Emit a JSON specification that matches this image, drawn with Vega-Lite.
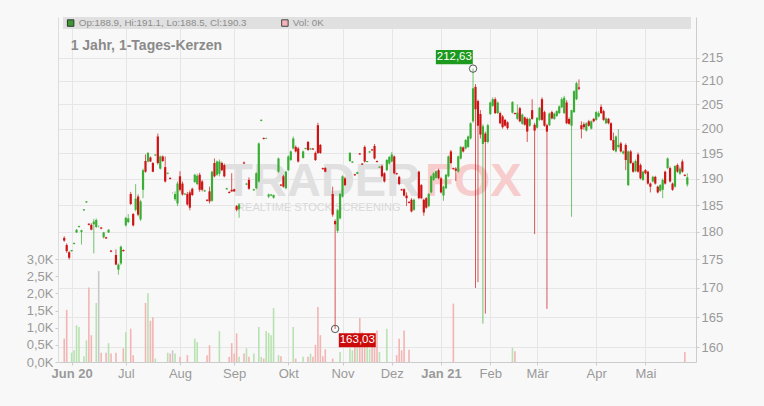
{
  "$schema": "https://vega.github.io/schema/vega-lite/v6.json",
  "width": 638,
  "height": 345,
  "autosize": {"type": "none"},
  "padding": {"left": 58, "top": 17, "right": 68, "bottom": 44},
  "background": "#f8f8f8",
  "config": {
    "view": {"stroke": null},
    "font": "Liberation Sans",
    "axis": {"labelFont": "Liberation Sans", "labelColor": "#9a9a9a", "labelFontSize": 13, "titleFont": "Liberation Sans"}
  },
  "data": {"values": [
    {"i":0,"o":178.9,"h":179.2,"l":178.2,"c":178.4,"v":0.68},
    {"i":1,"o":177.6,"h":177.9,"l":176.2,"c":176.5,"v":1.52},
    {"i":2,"o":176.3,"h":176.5,"l":175.0,"c":175.3,"v":0},
    {"i":3,"o":176.5,"h":176.7,"l":176.4,"c":176.7,"v":0.27},
    {"i":4,"o":177.8,"h":178.0,"l":177.7,"c":178.0,"v":0.34},
    {"i":5,"o":179.9,"h":180.5,"l":179.8,"c":180.4,"v":1.07},
    {"i":6,"o":180.9,"h":181.1,"l":180.8,"c":181.1,"v":1.02},
    {"i":7,"o":180.0,"h":180.4,"l":177.7,"c":180.3,"v":0},
    {"i":8,"o":184.0,"h":184.2,"l":183.9,"c":184.2,"v":0.17},
    {"i":9,"o":185.5,"h":185.7,"l":185.4,"c":185.7,"v":0.63},
    {"i":10,"o":181.5,"h":181.6,"l":181.2,"c":181.3,"v":2.17},
    {"i":11,"o":181.3,"h":181.6,"l":180.3,"c":180.4,"v":0.78},
    {"i":12,"o":181.4,"h":182.4,"l":176.1,"c":181.9,"v":0},
    {"i":13,"o":180.9,"h":182.5,"l":180.7,"c":182.2,"v":1.72},
    {"i":14,"o":181.0,"h":181.2,"l":180.8,"c":181.0,"v":2.65},
    {"i":15,"o":180.8,"h":180.9,"l":180.5,"c":180.6,"v":0.27},
    {"i":16,"o":179.0,"h":180.0,"l":178.8,"c":179.9,"v":0},
    {"i":17,"o":179.0,"h":179.1,"l":178.7,"c":178.8,"v":0.27},
    {"i":18,"o":179.9,"h":180.5,"l":179.8,"c":180.4,"v":0.55},
    {"i":19,"o":176.6,"h":176.7,"l":176.3,"c":176.4,"v":0.25},
    {"i":21,"o":175.8,"h":176.8,"l":174.0,"c":174.1,"v":0.27},
    {"i":22,"o":173.2,"h":174.3,"l":172.3,"c":174.1,"v":0},
    {"i":23,"o":174.3,"h":177.5,"l":174.0,"c":177.3,"v":0},
    {"i":24,"o":176.7,"h":176.8,"l":176.4,"c":176.5,"v":0.4},
    {"i":25,"o":181.2,"h":182.8,"l":181.0,"c":182.6,"v":0.87},
    {"i":26,"o":181.8,"h":183.3,"l":181.6,"c":182.5,"v":0},
    {"i":27,"o":187.1,"h":187.5,"l":185.0,"c":185.2,"v":0.97},
    {"i":28,"o":183.3,"h":183.5,"l":181.0,"c":181.2,"v":0.2},
    {"i":29,"o":184.1,"h":189.0,"l":183.8,"c":186.2,"v":0},
    {"i":30,"o":186.6,"h":187.0,"l":182.9,"c":183.2,"v":0},
    {"i":31,"o":182.3,"h":186.0,"l":182.0,"c":185.7,"v":0},
    {"i":32,"o":187.9,"h":192.0,"l":186.3,"c":191.7,"v":0},
    {"i":33,"o":193.5,"h":194.8,"l":191.2,"c":191.4,"v":1.72},
    {"i":34,"o":193.4,"h":195.3,"l":193.2,"c":195.1,"v":2.0},
    {"i":35,"o":194.2,"h":194.4,"l":193.3,"c":193.4,"v":1.2},
    {"i":36,"o":193.1,"h":193.3,"l":191.3,"c":191.4,"v":1.3},
    {"i":37,"o":194.6,"h":194.8,"l":194.5,"c":194.8,"v":0.1},
    {"i":38,"o":198.4,"h":199.0,"l":192.8,"c":193.1,"v":0},
    {"i":39,"o":192.0,"h":194.6,"l":191.8,"c":194.4,"v":0},
    {"i":40,"o":194.4,"h":194.6,"l":193.3,"c":193.5,"v":0},
    {"i":41,"o":192.3,"h":194.4,"l":189.3,"c":189.5,"v":0},
    {"i":42,"o":191.0,"h":191.2,"l":190.9,"c":191.2,"v":0.27},
    {"i":43,"o":190.2,"h":190.3,"l":189.9,"c":190.0,"v":0.25},
    {"i":44,"o":187.3,"h":187.4,"l":187.2,"c":187.3,"v":0.34},
    {"i":45,"o":186.1,"h":187.6,"l":185.8,"c":187.1,"v":0.25},
    {"i":46,"o":185.3,"h":189.5,"l":184.8,"c":189.1,"v":0},
    {"i":47,"o":190.5,"h":191.5,"l":187.6,"c":187.9,"v":0.15},
    {"i":48,"o":189.1,"h":189.5,"l":186.8,"c":187.0,"v":0},
    {"i":49,"o":187.0,"h":187.2,"l":186.9,"c":187.2,"v":0},
    {"i":50,"o":187.1,"h":187.5,"l":184.9,"c":185.1,"v":0.2},
    {"i":51,"o":187.4,"h":187.8,"l":184.0,"c":184.5,"v":0},
    {"i":52,"o":188.1,"h":188.3,"l":186.7,"c":186.9,"v":0},
    {"i":53,"o":189.4,"h":191.0,"l":189.2,"c":190.8,"v":0.68},
    {"i":54,"o":189.0,"h":191.0,"l":188.8,"c":190.6,"v":0.58},
    {"i":55,"o":190.8,"h":191.2,"l":187.5,"c":187.9,"v":0},
    {"i":56,"o":189.5,"h":189.8,"l":187.6,"c":187.9,"v":0},
    {"i":57,"o":187.6,"h":187.9,"l":187.5,"c":187.8,"v":0},
    {"i":58,"o":186.0,"h":186.1,"l":185.7,"c":185.8,"v":0.2},
    {"i":59,"o":187.6,"h":188.5,"l":185.3,"c":185.7,"v":0.49},
    {"i":60,"o":185.8,"h":191.6,"l":185.6,"c":191.4,"v":0},
    {"i":61,"o":193.1,"h":194.0,"l":190.3,"c":190.5,"v":0},
    {"i":62,"o":190.8,"h":193.6,"l":190.6,"c":193.4,"v":0},
    {"i":63,"o":191.0,"h":193.8,"l":190.5,"c":193.4,"v":0.9},
    {"i":64,"o":193.1,"h":193.4,"l":191.5,"c":191.7,"v":0},
    {"i":65,"o":192.7,"h":193.0,"l":190.3,"c":190.5,"v":0},
    {"i":66,"o":188.0,"h":188.3,"l":187.9,"c":188.2,"v":0},
    {"i":67,"o":187.5,"h":187.6,"l":187.2,"c":187.3,"v":0.15},
    {"i":68,"o":187.9,"h":191.1,"l":187.5,"c":187.6,"v":0.55},
    {"i":69,"o":188.0,"h":188.1,"l":187.5,"c":187.6,"v":0.25},
    {"i":70,"o":184.8,"h":185.0,"l":183.8,"c":184.1,"v":0.83},
    {"i":71,"o":184.2,"h":185.3,"l":182.6,"c":185.1,"v":0.15},
    {"i":73,"o":193.2,"h":193.4,"l":192.9,"c":193.0,"v":0.25},
    {"i":74,"o":188.9,"h":189.2,"l":188.8,"c":189.1,"v":0.4},
    {"i":75,"o":189.8,"h":190.3,"l":187.9,"c":188.1,"v":0.15},
    {"i":77,"o":187.8,"h":188.1,"l":187.7,"c":188.0,"v":0.25},
    {"i":78,"o":188.2,"h":191.3,"l":188.0,"c":191.1,"v":0},
    {"i":79,"o":189.5,"h":197.2,"l":189.3,"c":197.0,"v":1.02},
    {"i":80,"o":201.6,"h":201.9,"l":201.5,"c":201.8,"v":0.15},
    {"i":81,"o":198.1,"h":198.2,"l":197.8,"c":197.9,"v":0.1},
    {"i":82,"o":198.0,"h":198.2,"l":197.9,"c":198.1,"v":0.9},
    {"i":83,"o":186.6,"h":187.2,"l":186.3,"c":187.0,"v":0.85},
    {"i":84,"o":186.8,"h":187.1,"l":186.7,"c":187.0,"v":0.78},
    {"i":85,"o":186.4,"h":187.0,"l":186.2,"c":186.9,"v":1.57},
    {"i":87,"o":191.4,"h":194.2,"l":191.2,"c":194.0,"v":0.2},
    {"i":88,"o":188.9,"h":189.0,"l":188.6,"c":188.7,"v":0.17},
    {"i":89,"o":190.5,"h":190.8,"l":188.3,"c":188.5,"v":0},
    {"i":90,"o":188.2,"h":191.6,"l":188.0,"c":191.4,"v":0},
    {"i":91,"o":191.7,"h":194.6,"l":191.5,"c":194.4,"v":0},
    {"i":92,"o":193.7,"h":195.6,"l":193.5,"c":195.4,"v":0},
    {"i":93,"o":196.0,"h":198.4,"l":195.8,"c":198.0,"v":1.02},
    {"i":94,"o":196.3,"h":196.6,"l":195.2,"c":195.4,"v":0.1},
    {"i":95,"o":196.0,"h":196.3,"l":193.2,"c":193.4,"v":0},
    {"i":97,"o":194.1,"h":195.6,"l":194.0,"c":195.4,"v":0.15},
    {"i":98,"o":195.9,"h":196.1,"l":195.8,"c":196.1,"v":0},
    {"i":99,"o":197.3,"h":197.5,"l":195.5,"c":195.7,"v":0.15},
    {"i":100,"o":195.8,"h":196.0,"l":195.7,"c":196.0,"v":0.24},
    {"i":101,"o":196.0,"h":196.1,"l":195.7,"c":195.8,"v":0.15},
    {"i":102,"o":195.1,"h":195.4,"l":193.5,"c":193.7,"v":0.5},
    {"i":103,"o":200.7,"h":201.2,"l":194.9,"c":195.1,"v":1.6},
    {"i":104,"o":196.7,"h":196.9,"l":194.9,"c":195.1,"v":0.78},
    {"i":105,"o":192.1,"h":192.2,"l":191.8,"c":191.9,"v":0.17},
    {"i":106,"o":192.1,"h":192.3,"l":191.3,"c":191.4,"v":0.37},
    {"i":109,"o":187.1,"h":188.5,"l":182.8,"c":183.2,"v":0.1},
    {"i":110,"o":182.0,"h":182.3,"l":163.03,"c":181.4,"v":0},
    {"i":111,"o":180.2,"h":184.3,"l":179.8,"c":184.0,"v":0},
    {"i":112,"o":182.5,"h":187.3,"l":182.3,"c":187.1,"v":0.29},
    {"i":113,"o":186.6,"h":190.7,"l":186.4,"c":190.5,"v":0},
    {"i":114,"o":190.1,"h":190.4,"l":188.6,"c":188.8,"v":0},
    {"i":116,"o":193.5,"h":195.3,"l":193.3,"c":195.1,"v":0.39},
    {"i":117,"o":193.2,"h":193.5,"l":193.1,"c":193.4,"v":0.34},
    {"i":118,"o":190.9,"h":191.0,"l":190.6,"c":190.7,"v":0.87},
    {"i":119,"o":191.0,"h":191.4,"l":190.9,"c":191.3,"v":0.56},
    {"i":120,"o":195.0,"h":195.1,"l":194.7,"c":194.8,"v":1.28},
    {"i":121,"o":193.0,"h":193.1,"l":192.7,"c":192.8,"v":0.87},
    {"i":122,"o":196.3,"h":196.6,"l":193.2,"c":193.4,"v":0.66},
    {"i":123,"o":193.3,"h":193.5,"l":193.2,"c":193.5,"v":0.78},
    {"i":124,"o":195.2,"h":195.5,"l":195.1,"c":195.4,"v":0.39},
    {"i":125,"o":195.8,"h":195.9,"l":195.5,"c":195.6,"v":0.83},
    {"i":126,"o":196.5,"h":196.9,"l":193.8,"c":194.0,"v":0.59},
    {"i":127,"o":193.5,"h":193.6,"l":193.2,"c":193.3,"v":0.92},
    {"i":128,"o":192.2,"h":192.4,"l":192.1,"c":192.4,"v":0.29},
    {"i":129,"o":192.5,"h":192.8,"l":190.3,"c":190.5,"v":0},
    {"i":130,"o":191.1,"h":191.3,"l":189.3,"c":189.5,"v":0},
    {"i":131,"o":191.7,"h":193.9,"l":191.5,"c":193.7,"v":0.97},
    {"i":132,"o":193.0,"h":194.5,"l":192.8,"c":194.3,"v":0},
    {"i":133,"o":193.4,"h":195.3,"l":193.2,"c":194.8,"v":0},
    {"i":134,"o":194.4,"h":194.6,"l":190.9,"c":191.1,"v":0},
    {"i":135,"o":191.1,"h":191.2,"l":190.8,"c":190.9,"v":0.2},
    {"i":136,"o":190.4,"h":190.6,"l":188.8,"c":189.0,"v":0.68},
    {"i":137,"o":188.0,"h":188.1,"l":187.7,"c":187.8,"v":0.34},
    {"i":138,"o":188.0,"h":188.2,"l":186.6,"c":186.8,"v":0.92},
    {"i":139,"o":186.8,"h":187.4,"l":184.8,"c":186.3,"v":0},
    {"i":140,"o":185.6,"h":185.7,"l":185.3,"c":185.4,"v":0.36},
    {"i":141,"o":186.0,"h":186.3,"l":183.6,"c":183.8,"v":0},
    {"i":142,"o":184.1,"h":186.2,"l":183.9,"c":186.0,"v":0},
    {"i":144,"o":191.4,"h":191.6,"l":186.1,"c":186.3,"v":0},
    {"i":145,"o":188.8,"h":189.0,"l":186.1,"c":186.3,"v":0},
    {"i":146,"o":186.0,"h":186.2,"l":183.0,"c":183.6,"v":0},
    {"i":147,"o":186.3,"h":186.5,"l":184.3,"c":184.5,"v":0},
    {"i":148,"o":184.8,"h":187.3,"l":184.6,"c":187.1,"v":0},
    {"i":149,"o":187.4,"h":190.7,"l":187.2,"c":190.5,"v":0},
    {"i":150,"o":189.8,"h":191.3,"l":189.6,"c":191.1,"v":0},
    {"i":151,"o":190.2,"h":191.7,"l":190.0,"c":191.5,"v":0},
    {"i":152,"o":191.7,"h":192.0,"l":189.9,"c":190.1,"v":0},
    {"i":153,"o":190.1,"h":190.4,"l":187.2,"c":187.4,"v":0},
    {"i":154,"o":186.8,"h":188.7,"l":185.8,"c":188.5,"v":0},
    {"i":155,"o":188.2,"h":191.0,"l":188.0,"c":190.8,"v":0},
    {"i":156,"o":190.5,"h":194.6,"l":190.3,"c":194.4,"v":0},
    {"i":157,"o":195.4,"h":195.7,"l":192.9,"c":193.1,"v":0},
    {"i":158,"o":192.1,"h":192.2,"l":191.8,"c":191.9,"v":1.7},
    {"i":159,"o":192.0,"h":192.3,"l":189.6,"c":191.6,"v":0},
    {"i":160,"o":191.4,"h":194.6,"l":191.2,"c":194.4,"v":0},
    {"i":161,"o":194.0,"h":196.5,"l":193.8,"c":196.3,"v":0},
    {"i":162,"o":196.2,"h":196.4,"l":195.2,"c":195.4,"v":0},
    {"i":163,"o":196.0,"h":197.9,"l":195.8,"c":197.7,"v":0},
    {"i":164,"o":196.3,"h":198.6,"l":196.1,"c":198.4,"v":0},
    {"i":165,"o":198.0,"h":201.3,"l":197.8,"c":201.1,"v":0},
    {"i":166,"o":201.5,"h":212.63,"l":201.2,"c":208.4,"v":0},
    {"i":167,"o":208.7,"h":209.3,"l":170.0,"c":204.0,"v":0},
    {"i":168,"o":205.7,"h":206.0,"l":171.0,"c":200.6,"v":0},
    {"i":169,"o":203.0,"h":203.8,"l":198.0,"c":198.8,"v":0},
    {"i":170,"o":196.9,"h":200.9,"l":163.9,"c":200.5,"v":0},
    {"i":171,"o":199.0,"h":199.4,"l":165.6,"c":197.3,"v":0},
    {"i":172,"o":197.3,"h":201.0,"l":197.0,"c":200.7,"v":0},
    {"i":173,"o":203.0,"h":205.6,"l":202.8,"c":205.4,"v":0},
    {"i":174,"o":204.7,"h":206.5,"l":204.5,"c":206.1,"v":0},
    {"i":175,"o":206.1,"h":206.5,"l":203.0,"c":203.2,"v":0},
    {"i":176,"o":203.2,"h":205.6,"l":203.0,"c":205.4,"v":0},
    {"i":177,"o":203.2,"h":203.5,"l":200.9,"c":201.1,"v":0},
    {"i":178,"o":202.5,"h":202.8,"l":200.0,"c":200.3,"v":0},
    {"i":179,"o":201.8,"h":202.0,"l":200.4,"c":200.6,"v":0},
    {"i":180,"o":201.3,"h":201.5,"l":199.8,"c":200.1,"v":0},
    {"i":182,"o":203.3,"h":205.7,"l":203.1,"c":205.5,"v":0.41},
    {"i":183,"o":203.2,"h":203.3,"l":202.9,"c":203.0,"v":0.31},
    {"i":184,"o":202.0,"h":205.0,"l":201.8,"c":203.3,"v":0},
    {"i":185,"o":204.2,"h":204.5,"l":201.3,"c":201.5,"v":0},
    {"i":186,"o":201.0,"h":203.1,"l":200.8,"c":202.9,"v":0},
    {"i":187,"o":202.3,"h":202.5,"l":200.6,"c":200.8,"v":0},
    {"i":188,"o":202.0,"h":202.3,"l":197.3,"c":199.4,"v":0},
    {"i":189,"o":200.6,"h":202.2,"l":200.4,"c":202.0,"v":0},
    {"i":190,"o":203.8,"h":206.1,"l":201.8,"c":202.0,"v":0},
    {"i":191,"o":200.8,"h":201.2,"l":179.6,"c":199.6,"v":0},
    {"i":192,"o":200.2,"h":202.4,"l":200.0,"c":202.2,"v":0},
    {"i":193,"o":201.8,"h":204.5,"l":201.6,"c":204.3,"v":0},
    {"i":194,"o":206.1,"h":206.5,"l":201.6,"c":201.8,"v":0},
    {"i":195,"o":203.4,"h":203.7,"l":200.4,"c":200.6,"v":0},
    {"i":196,"o":200.7,"h":201.0,"l":166.4,"c":199.4,"v":0},
    {"i":197,"o":200.7,"h":203.3,"l":200.5,"c":203.1,"v":0},
    {"i":198,"o":203.4,"h":203.7,"l":201.9,"c":202.1,"v":0},
    {"i":199,"o":202.0,"h":203.3,"l":201.8,"c":203.1,"v":0},
    {"i":200,"o":202.6,"h":203.8,"l":202.4,"c":203.6,"v":0},
    {"i":201,"o":203.2,"h":204.8,"l":203.0,"c":204.6,"v":0},
    {"i":202,"o":204.4,"h":206.5,"l":204.2,"c":206.1,"v":0},
    {"i":203,"o":203.2,"h":206.8,"l":203.0,"c":206.4,"v":0},
    {"i":204,"o":205.4,"h":205.9,"l":200.9,"c":201.1,"v":0},
    {"i":205,"o":202.0,"h":202.3,"l":200.8,"c":201.0,"v":0},
    {"i":206,"o":200.6,"h":203.9,"l":182.8,"c":203.8,"v":0},
    {"i":207,"o":203.4,"h":208.0,"l":203.2,"c":207.8,"v":0},
    {"i":208,"o":206.1,"h":209.8,"l":205.9,"c":209.5,"v":0},
    {"i":209,"o":208.6,"h":210.3,"l":208.0,"c":208.3,"v":0},
    {"i":210,"o":200.7,"h":201.5,"l":198.0,"c":199.9,"v":0},
    {"i":211,"o":200.9,"h":201.3,"l":199.8,"c":200.3,"v":0},
    {"i":212,"o":199.6,"h":201.3,"l":199.4,"c":201.1,"v":0},
    {"i":213,"o":201.5,"h":201.8,"l":200.4,"c":200.6,"v":0},
    {"i":214,"o":200.0,"h":201.7,"l":199.8,"c":201.5,"v":0},
    {"i":215,"o":202.0,"h":202.2,"l":201.3,"c":201.5,"v":0},
    {"i":216,"o":201.8,"h":203.6,"l":201.6,"c":203.4,"v":0},
    {"i":217,"o":202.5,"h":203.6,"l":202.3,"c":203.2,"v":0},
    {"i":218,"o":204.5,"h":205.0,"l":203.0,"c":203.2,"v":0},
    {"i":219,"o":203.6,"h":203.9,"l":201.6,"c":201.8,"v":0},
    {"i":220,"o":201.1,"h":202.3,"l":200.9,"c":202.1,"v":0},
    {"i":221,"o":202.0,"h":202.2,"l":200.9,"c":201.1,"v":0},
    {"i":222,"o":201.1,"h":201.3,"l":197.5,"c":197.7,"v":0},
    {"i":223,"o":197.7,"h":199.2,"l":195.5,"c":195.7,"v":0},
    {"i":224,"o":195.4,"h":198.6,"l":195.2,"c":198.4,"v":0},
    {"i":225,"o":196.3,"h":199.9,"l":196.0,"c":196.7,"v":0},
    {"i":226,"o":197.0,"h":197.3,"l":195.2,"c":195.4,"v":0},
    {"i":227,"o":195.0,"h":195.6,"l":194.8,"c":195.4,"v":0},
    {"i":228,"o":196.7,"h":197.0,"l":191.7,"c":193.7,"v":0},
    {"i":229,"o":188.8,"h":195.6,"l":188.6,"c":195.4,"v":0},
    {"i":230,"o":195.4,"h":195.7,"l":192.9,"c":193.1,"v":0},
    {"i":231,"o":193.1,"h":193.4,"l":191.2,"c":191.4,"v":0},
    {"i":232,"o":191.5,"h":193.8,"l":191.3,"c":193.5,"v":0},
    {"i":233,"o":194.8,"h":195.2,"l":191.2,"c":191.4,"v":0},
    {"i":234,"o":192.7,"h":193.0,"l":189.9,"c":190.1,"v":0},
    {"i":235,"o":189.8,"h":191.6,"l":189.6,"c":191.4,"v":0},
    {"i":236,"o":191.7,"h":191.9,"l":190.9,"c":191.1,"v":0},
    {"i":237,"o":191.4,"h":191.6,"l":188.9,"c":189.1,"v":0},
    {"i":238,"o":189.1,"h":189.3,"l":187.4,"c":188.5,"v":0},
    {"i":239,"o":189.5,"h":190.6,"l":189.3,"c":190.4,"v":0},
    {"i":240,"o":190.4,"h":190.6,"l":188.9,"c":189.1,"v":0},
    {"i":241,"o":188.5,"h":188.7,"l":187.2,"c":187.4,"v":0},
    {"i":242,"o":187.7,"h":189.0,"l":187.5,"c":188.8,"v":0},
    {"i":243,"o":187.9,"h":190.1,"l":186.3,"c":189.8,"v":0},
    {"i":244,"o":191.4,"h":191.6,"l":188.9,"c":189.1,"v":0},
    {"i":245,"o":192.1,"h":194.2,"l":191.9,"c":194.0,"v":0},
    {"i":246,"o":192.1,"h":192.4,"l":189.3,"c":189.5,"v":0},
    {"i":247,"o":189.1,"h":189.3,"l":187.7,"c":187.9,"v":0},
    {"i":248,"o":188.5,"h":192.7,"l":188.3,"c":192.5,"v":0},
    {"i":249,"o":192.7,"h":193.0,"l":191.2,"c":191.4,"v":0},
    {"i":250,"o":191.0,"h":192.4,"l":190.8,"c":192.0,"v":0},
    {"i":251,"o":193.4,"h":193.8,"l":191.2,"c":191.4,"v":0},
    {"i":252,"o":190.8,"h":190.9,"l":190.5,"c":190.6,"v":0.29},
    {"i":253,"o":188.9,"h":191.1,"l":188.5,"c":190.3,"v":0}
  ]},
  "encoding": {
    "x": {
      "field": "i", "type": "quantitative",
      "scale": {"domain": [-0.5, 254.5], "nice": false, "zero": false},
      "axis": {
        "title": null,
        "values": [3, 25, 47, 69, 91, 113, 133, 153, 173, 192, 216, 236],
        "labelExpr": "['Jun 20','Jul','Aug','Sep','Okt','Nov','Dez','Jan 21','Feb','Mär','Apr','Mai'][indexof([3,25,47,69,91,113,133,153,173,192,216,236], datum.value)]",
        "labelFontWeight": {"condition": {"test": "datum.value == 3 || datum.value == 153", "value": "bold"}, "value": "normal"},
        "grid": true, "gridColor": "#e6e6e6",
        "domainColor": "#cccccc", "tickColor": "#cccccc", "tickSize": 3,
        "labelPadding": 2, "labelFlush": false, "labelOverlap": false
      }
    }
  },
  "layer": [
    {
      "transform": [{"filter": "datum.v > 0"}],
      "mark": {"type": "bar", "size": 1.6, "orient": "vertical"},
      "encoding": {
        "y": {
          "field": "v", "type": "quantitative",
          "scale": {"domain": [0, 10.05], "nice": false},
          "axis": {
            "orient": "left", "title": null, "values": [0, 0.5, 1, 1.5, 2, 2.5, 3],
            "labelExpr": "replace(format(datum.value, '.1f'), '.', ',') + 'K'",
            "grid": false, "domainColor": "#dddddd", "tickColor": "#cccccc", "tickSize": 3, "labelPadding": 2
          }
        },
        "color": {
          "condition": [
            {"test": "datum.c > datum.o", "value": "#b8e2b1"},
            {"test": "datum.c < datum.o", "value": "#f3b4b4"}
          ],
          "value": "#c8c8c8"
        }
      }
    },
    {
      "layer": [
        {
          "mark": {"type": "rule", "strokeWidth": 1},
          "encoding": {
            "y": {
              "field": "l", "type": "quantitative",
              "scale": {"type": "log", "domain": [157.62, 224.13], "nice": false},
              "axis": {
                "orient": "right", "title": null,
                "values": [160, 165, 170, 175, 180, 185, 190, 195, 200, 205, 210, 215],
                "format": "d", "grid": true, "gridColor": "#e6e6e6",
                "domainColor": "#cccccc", "tickColor": "#cccccc", "tickSize": 3, "labelPadding": 2
              }
            },
            "y2": {"field": "h"},
            "color": {"value": "#00000000"}
          }
        },
        {
          "transform": [{"filter": "datum.i == 253"}],
          "mark": {"type": "text", "text": "TRADER", "font": "Liberation Sans", "fontSize": 47, "fontWeight": "bold", "align": "left", "baseline": "alphabetic", "color": "#e0e0e0"},
          "encoding": {
            "x": {"datum": 65, "type": "quantitative"},
            "y": {"datum": 186.8, "type": "quantitative"}
          }
        },
        {
          "transform": [{"filter": "datum.i == 253"}],
          "mark": {"type": "text", "text": "FOX", "font": "Liberation Sans", "fontSize": 47, "fontWeight": "bold", "align": "left", "baseline": "alphabetic", "color": "#f7cccc"},
          "encoding": {
            "x": {"datum": 146.5, "type": "quantitative"},
            "y": {"datum": 186.8, "type": "quantitative"}
          }
        },
        {
          "transform": [{"filter": "datum.i == 253"}],
          "mark": {"type": "text", "text": "REALTIME STOCK SCREENING", "font": "Liberation Sans", "fontSize": 11, "align": "left", "baseline": "middle", "color": "#d9d9d9"},
          "encoding": {
            "x": {"datum": 70.2, "type": "quantitative"},
            "y": {"datum": 184.5, "type": "quantitative"}
          }
        },
        {
          "mark": {"type": "rule", "strokeWidth": 1, "opacity": 0.7},
          "encoding": {
            "y": {"field": "l", "type": "quantitative"},
            "y2": {"field": "h"},
            "color": {"condition": {"test": "datum.c >= datum.o", "value": "#3aad35"}, "value": "#cc1414"}
          }
        },
        {
          "mark": {"type": "bar", "size": 2.2, "orient": "vertical"},
          "encoding": {
            "y": {"field": "o", "type": "quantitative"},
            "y2": {"field": "c"},
            "color": {"condition": {"test": "datum.c >= datum.o", "value": "#3aad35"}, "value": "#cc1414"}
          }
        },
        {
          "transform": [{"filter": "datum.i == 253"}],
          "mark": {"type": "rect", "color": "#e0e0e0"},
          "encoding": {
            "x": {"datum": -0.5, "type": "quantitative"},
            "x2": {"datum": 254.5},
            "y": {"datum": 221.4, "type": "quantitative"},
            "y2": {"datum": 224.13}
          }
        },
        {
          "transform": [{"filter": "datum.i == 253"}],
          "mark": {"type": "point", "shape": "square", "size": 42, "filled": true, "color": "#3a9a2e", "stroke": "#333333", "strokeWidth": 1, "opacity": 1},
          "encoding": {
            "x": {"datum": 2.6, "type": "quantitative"},
            "y": {"datum": 222.75, "type": "quantitative"}
          }
        },
        {
          "transform": [{"filter": "datum.i == 253"}],
          "mark": {"type": "point", "shape": "square", "size": 42, "filled": true, "color": "#f2b3bb", "stroke": "#444444", "strokeWidth": 1, "opacity": 1},
          "encoding": {
            "x": {"datum": 89.6, "type": "quantitative"},
            "y": {"datum": 222.75, "type": "quantitative"}
          }
        },
        {
          "transform": [{"filter": "datum.i == 253"}],
          "mark": {"type": "text", "text": "Op:188.9, Hi:191.1, Lo:188.5, Cl:190.3", "font": "Liberation Sans", "fontSize": 9.8, "align": "left", "baseline": "middle", "color": "#8c8c8c"},
          "encoding": {
            "x": {"datum": 5.9, "type": "quantitative"},
            "y": {"datum": 222.75, "type": "quantitative"}
          }
        },
        {
          "transform": [{"filter": "datum.i == 253"}],
          "mark": {"type": "text", "text": "Vol: 0K", "font": "Liberation Sans", "fontSize": 9.8, "align": "left", "baseline": "middle", "color": "#8c8c8c"},
          "encoding": {
            "x": {"datum": 92.8, "type": "quantitative"},
            "y": {"datum": 222.75, "type": "quantitative"}
          }
        },
        {
          "transform": [{"filter": "datum.i == 253"}],
          "mark": {"type": "text", "text": "1 Jahr, 1-Tages-Kerzen", "font": "Liberation Sans", "fontSize": 14, "fontWeight": "bold", "align": "left", "baseline": "alphabetic", "color": "#8a8a8a"},
          "encoding": {
            "x": {"datum": 2.6, "type": "quantitative"},
            "y": {"datum": 216.6, "type": "quantitative"}
          }
        },
        {
          "transform": [{"filter": "datum.i == 253"}],
          "mark": {"type": "rect", "color": "#1d9a1d"},
          "encoding": {
            "x": {"datum": 150.9, "type": "quantitative"},
            "x2": {"datum": 165.9},
            "y": {"datum": 213.6, "type": "quantitative"},
            "y2": {"datum": 216.7}
          }
        },
        {
          "transform": [{"filter": "datum.i == 253"}],
          "mark": {"type": "text", "text": "212,63", "font": "Liberation Sans", "fontSize": 11.5, "align": "center", "baseline": "middle", "color": "#ffffff"},
          "encoding": {
            "x": {"datum": 158.4, "type": "quantitative"},
            "y": {"datum": 215.1, "type": "quantitative"}
          }
        },
        {
          "transform": [{"filter": "datum.i == 253"}],
          "mark": {"type": "rect", "color": "#cc0a0a"},
          "encoding": {
            "x": {"datum": 111.5, "type": "quantitative"},
            "x2": {"datum": 126.5},
            "y": {"datum": 160.0, "type": "quantitative"},
            "y2": {"datum": 162.3}
          }
        },
        {
          "transform": [{"filter": "datum.i == 253"}],
          "mark": {"type": "text", "text": "163,03", "font": "Liberation Sans", "fontSize": 11.5, "align": "center", "baseline": "middle", "color": "#ffffff"},
          "encoding": {
            "x": {"datum": 119, "type": "quantitative"},
            "y": {"datum": 161.15, "type": "quantitative"}
          }
        },
        {
          "transform": [{"filter": "datum.i == 166"}],
          "mark": {"type": "point", "shape": "circle", "size": 55, "filled": false, "stroke": "#555555", "strokeWidth": 1, "opacity": 1},
          "encoding": {
            "y": {"field": "h", "type": "quantitative"}
          }
        },
        {
          "transform": [{"filter": "datum.i == 110"}],
          "mark": {"type": "point", "shape": "circle", "size": 55, "filled": false, "stroke": "#555555", "strokeWidth": 1, "opacity": 1},
          "encoding": {
            "y": {"field": "l", "type": "quantitative"}
          }
        }
      ]
    }
  ],
  "resolve": {"scale": {"y": "independent"}, "axis": {"y": "independent"}}
}
